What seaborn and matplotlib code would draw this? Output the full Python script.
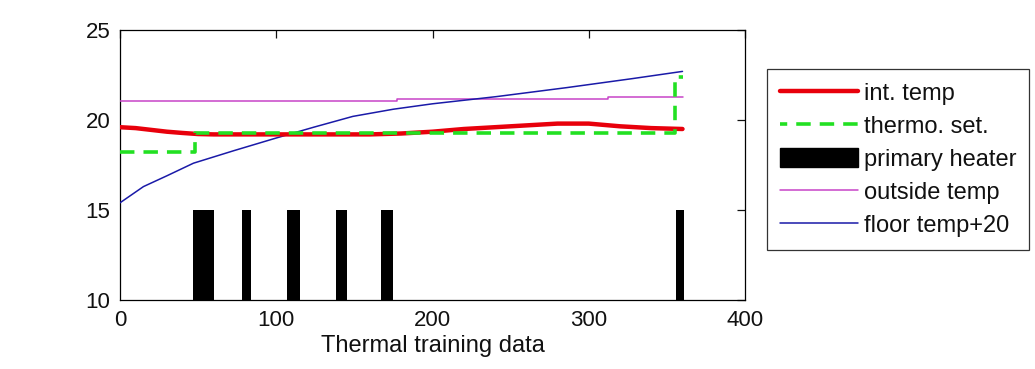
import numpy as np
import matplotlib
matplotlib.use("Agg")
import matplotlib.pyplot as plt
import seaborn as sns
from matplotlib.patches import Patch
from matplotlib.lines import Line2D

# -----------------------------------------------
# DATA
# -----------------------------------------------
# internal temperature (thick red line)
int_time = [0, 10, 20, 30, 40, 50, 60, 80, 100, 120, 140, 160, 180,
            200, 220, 240, 260, 280, 300, 320, 340, 360]
int_temp = [19.6, 19.55, 19.45, 19.35, 19.28, 19.22, 19.2, 19.2, 19.2,
            19.2, 19.2, 19.2, 19.25, 19.35, 19.5, 19.6, 19.7, 19.8,
            19.8, 19.65, 19.55, 19.5]

# thermostat set point (green dashed, stepped)
thermo_time = [0, 48, 355, 360]
thermo_set = [18.2, 19.3, 22.4, 22.4]

# outside temperature (magenta, stepped)
outside_time = [0, 177, 312, 360]
outside_temp = [21.05, 21.15, 21.3, 21.3]

# floor temperature + 20 (blue)
floor_time = [0, 15, 30, 47, 73, 100, 124, 149, 175, 200, 241, 286, 328, 360]
floor_temp = [15.4, 16.3, 16.9, 17.6, 18.3, 19.0, 19.6, 20.2, 20.6, 20.9,
              21.3, 21.8, 22.3, 22.7]

# primary heater on-intervals
heater_start = [47, 78, 107, 138, 167, 356]
heater_end = [60, 84, 115, 145, 175, 361]
heater_level = 15

x_ticks = [0, 100, 200, 300, 400]
y_ticks = [10, 15, 20, 25]

# -----------------------------------------------
# STYLE
# -----------------------------------------------
sns.set_style("white")
plt.rcParams["font.family"] = ["Liberation Sans", "DejaVu Sans"]
plt.rcParams["text.color"] = "#111111"
plt.rcParams["axes.labelcolor"] = "#111111"

RED = "#e8000b"
GREEN = "#22e022"
MAGENTA = "#c844c8"
BLUE = "#1a1aa8"

fig = plt.figure(figsize=(10.35, 3.69), dpi=100)
ax = fig.add_axes([120 / 1035, 69 / 369, 625 / 1035, 270 / 369])

# heater bars
starts = np.array(heater_start)
widths = np.array(heater_end) - starts
ax.bar(starts, heater_level - 10, width=widths, bottom=10, align="edge",
       color="black", edgecolor="black", linewidth=0, zorder=2)

sns.lineplot(x=outside_time, y=outside_temp, ax=ax, color=MAGENTA,
             linewidth=1.1, drawstyle="steps-post", zorder=3)
sns.lineplot(x=floor_time, y=floor_temp, ax=ax, color=BLUE,
             linewidth=1.1, zorder=3)
sns.lineplot(x=int_time, y=int_temp, ax=ax, color=RED,
             linewidth=3.2, zorder=4)
sns.lineplot(x=thermo_time, y=thermo_set, ax=ax, color=GREEN,
             linewidth=2.6, drawstyle="steps-post", linestyle=(0, (4, 2.5)), zorder=5)

ax.set_xlim(0, 400)
ax.set_ylim(10, 25)
ax.set_xticks(x_ticks)
ax.set_yticks(y_ticks)
ax.tick_params(direction="in", top=True, right=True, length=6, pad=7,
               labelsize=16, colors="#111111", width=0.9)
for s in ax.spines.values():
    s.set_color("black")
    s.set_linewidth(0.9)
ax.set_xlabel("Thermal training data", fontsize=17, labelpad=3)
ax.set_ylabel("")

handles = [
    Line2D([], [], color=RED, linewidth=3.2),
    Line2D([], [], color=GREEN, linewidth=2.6, linestyle=(2, (4, 2.5))),
    Patch(facecolor="black", edgecolor="black"),
    Line2D([], [], color=MAGENTA, linewidth=1.1),
    Line2D([], [], color=BLUE, linewidth=1.1),
]
labels = ["int. temp", "thermo. set.", "primary heater", "outside temp", "floor temp+20"]
leg = ax.legend(handles, labels, loc="upper left", bbox_to_anchor=(1.035, 0.855),
                frameon=True, fancybox=False, fontsize=17, handlelength=3.3,
                handletextpad=0.25, borderpad=0.55, labelspacing=0.42,
                borderaxespad=0, handleheight=0.9)
leg.get_frame().set_edgecolor("black")
leg.get_frame().set_linewidth(0.9)

fig.savefig("out.png", dpi=100)
